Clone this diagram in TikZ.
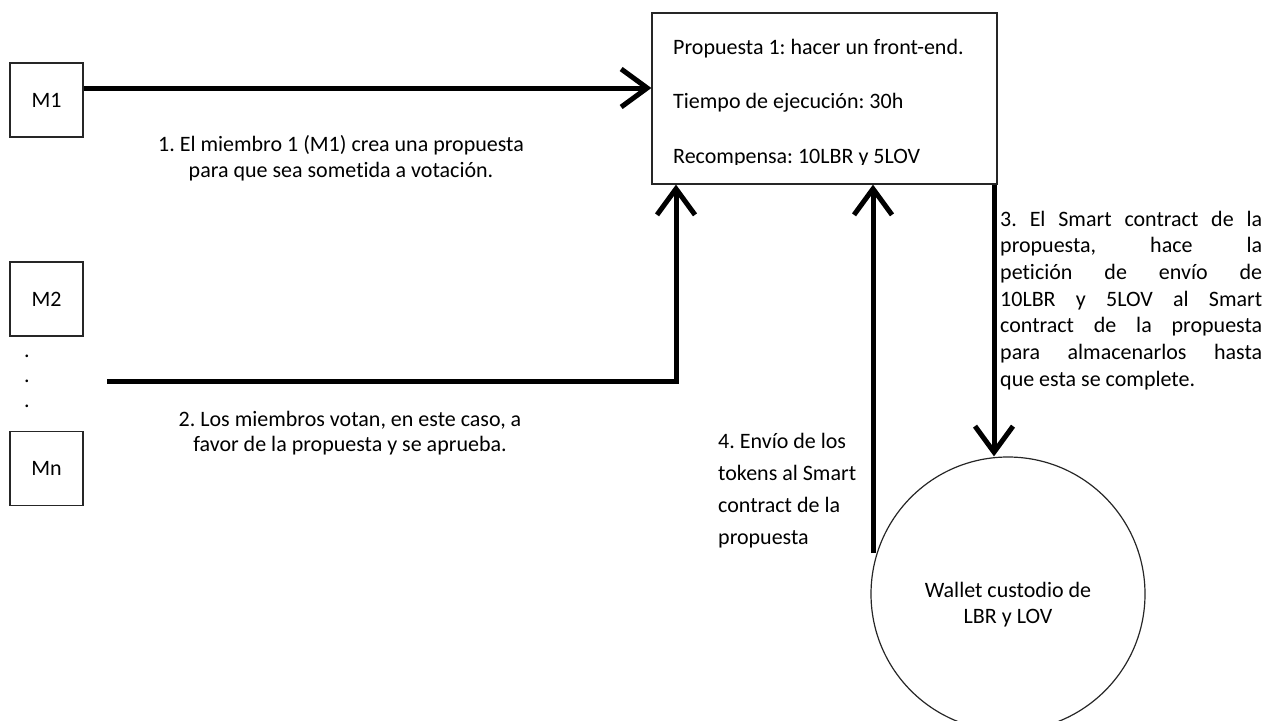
\documentclass[tikz,border=0pt]{standalone}
\usepackage{fontspec}
\setmainfont{Carlito}[Ligatures=NoCommon]
\usetikzlibrary{arrows.meta}
\frenchspacing
\begin{document}
\begin{tikzpicture}[x=1pt,y=-1pt,
  every node/.style={font=\fontsize{22}{26}\selectfont, inner sep=0pt},
  mbox/.style={draw=black!85, line width=1.2pt, minimum width=73pt, minimum height=74pt},
  flow/.style={line width=5pt, -{Straight Barb[length=26pt,width=38pt]}},
  lbl/.style={anchor=base west},
  clbl/.style={anchor=base}]
\useasboundingbox (0,0) rectangle (1268,720);
% member boxes
\node[mbox] (m1) at (46.5,100) {M1};
\node[mbox] (m2) at (46.5,299) {M2};
\node[mbox] (mn) at (46.5,468.5) {Mn};
\node[clbl] (d1) at (27,357) {.};
\node[clbl] (d2) at (27,382) {.};
\node[clbl] (d3) at (27,407) {.};
% proposal box
\node[draw=black!85, line width=1.2pt, minimum width=345pt, minimum height=171pt] (prop) at (824.5,98.5) {};
\begin{scope}
\clip (652,13) rectangle (997,164);
\node[lbl] (p1) at (673,54) {Propuesta 1: hacer un front-end.};
\node[lbl] (p2) at (673,108) {Tiempo de ejecución: 30h};
\node[lbl] (p3) at (673,163) {Recompensa: 10LBR y 5LOV};
\end{scope}
% wallet
\node[draw=black!85, line width=1.2pt, circle, minimum size=274pt] (wallet) at (1008,594) {};
\node[clbl] (w1) at (1008,597) {Wallet custodio de};
\node[clbl] (w2) at (1008,623) {LBR y LOV};
% connectors
\coordinate (y1) at (0,88);
\coordinate (v2) at (107,381);
\coordinate (x2) at (676,0);
\coordinate (v4) at (873,553);
\coordinate (x3) at (994,0);
\draw[flow] (m1.east |- y1) -- (prop.west |- y1);
\draw[flow] (v2) -| (prop.south -| x2);
\draw[flow] (v4) -- (prop.south -| v4);
\draw[flow] (prop.south -| x3) -- (wallet.north -| x3);
% labels
\node[clbl] (l1a) at (341,151) {1. El miembro 1 (M1) crea una propuesta};
\node[clbl] (l1b) at (341,177) {para que sea sometida a votación.};
\node[clbl] (l2a) at (350,426) {2. Los miembros votan, en este caso, a};
\node[clbl] (l2b) at (350,451) {favor de la propuesta y se aprueba.};
\node[lbl] (l3a) at (1000,226) {\makebox[262pt][s]{3. El Smart contract de la}};
\node[lbl] (l3b) at (1000,252.7) {\makebox[262pt][s]{propuesta, hace la}};
\node[lbl] (l3c) at (1000,279.3) {\makebox[262pt][s]{petición de envío de}};
\node[lbl] (l3d) at (1000,306) {\makebox[262pt][s]{10LBR y 5LOV al Smart}};
\node[lbl] (l3e) at (1000,332.7) {\makebox[262pt][s]{contract de la propuesta}};
\node[lbl] (l3f) at (1000,359.3) {\makebox[262pt][s]{para almacenarlos hasta}};
\node[lbl] (l3g) at (1000,386) {que esta se complete.};
\node[lbl] (l4a) at (718,448) {4. Envío de los};
\node[lbl] (l4b) at (718,480) {tokens al Smart};
\node[lbl] (l4c) at (718,512) {contract de la};
\node[lbl] (l4d) at (718,544) {propuesta};
\end{tikzpicture}
\end{document}
